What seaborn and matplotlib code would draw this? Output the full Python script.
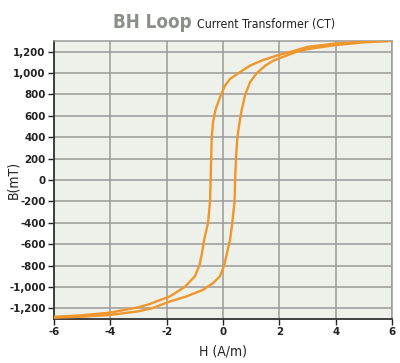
import matplotlib
matplotlib.use("Agg")
import matplotlib.pyplot as plt
import seaborn as sns
import pandas as pd
from matplotlib import font_manager
from matplotlib.font_manager import FontProperties

# descending branch (from +H saturation to -H)
h_down = [6, 5, 4, 3, 2.45, 1.92, 1.38, 0.96, 0.55, 0.25, 0.07, -0.07, -0.26, -0.35,
          -0.40, -0.42, -0.44, -0.46, -0.53, -0.67, -0.75, -0.84, -1.0, -1.36, -1.89, -2.37,
          -2.6, -3, -4, -5, -6]
b_down = [1302, 1292, 1277, 1245, 1202, 1165, 1118, 1070, 1000, 945, 883, 800, 663, 550,
          400, 200, 0, -200, -400, -558, -690, -800, -901, -1000, -1089, -1136,
          -1160, -1190, -1240, -1265, -1280]

# ascending branch (from -H saturation to +H)
h_up = [-6, -5, -4, -3, -2.5, -1.89, -1.3, -0.7, -0.35, -0.11, 0.04, 0.25, 0.33, 0.41,
        0.43, 0.46, 0.51, 0.6, 0.67, 0.79, 0.96, 1.2, 1.5, 1.8, 2.27, 2.57, 3, 4, 5, 6]
b_up = [-1288, -1278, -1262, -1228, -1198, -1136, -1089, -1026, -963, -901, -800, -558, -400, -200,
        0, 200, 400, 560, 663, 800, 915, 1000, 1070, 1118, 1165, 1196, 1225, 1262, 1288, 1302]

x_ticks = [-6, -4, -2, 0, 2, 4, 6]
y_ticks = [-1200, -1000, -800, -600, -400, -200, 0, 200, 400, 600, 800, 1000, 1200]
y_labels = ["-1,200", "-1,000", "-800", "-600", "-400", "-200", "0",
            "200", "400", "600", "800", "1,000", "1,200"]


# look for a condensed / narrow face, the original uses one
def pick_font(bold):
    narrow = [f for f in font_manager.fontManager.ttflist
              if f.stretch in ("condensed", "semi-condensed", "extra-condensed", "ultra-condensed")
              or "Narrow" in f.name or "Condensed" in f.name]
    def w(f):
        try:
            return int(f.weight)
        except (TypeError, ValueError):
            return 700 if "bold" in str(f.weight) else 400
    good = [f for f in narrow if (w(f) >= 600) == bold and f.style == "normal"]
    if good:
        return FontProperties(fname=good[0].fname), True
    return FontProperties(family="Liberation Sans", weight="bold" if bold else "normal"), False


fp_reg, cond_ok = pick_font(False)
fp_bold, _ = pick_font(True)

df = pd.DataFrame({
    "H": h_down + h_up,
    "B": b_down + b_up,
    "branch": ["down"] * len(h_down) + ["up"] * len(h_up),
})

sns.set_style("white")
plt.rcParams["font.family"] = ["Liberation Sans", "DejaVu Sans"]

fig = plt.figure(figsize=(4, 3.63), dpi=100)
ax = fig.add_axes([0.135, 0.1212, 0.845, 0.7658])
ax.set_facecolor("#eef0ea")

sns.lineplot(data=df, x="H", y="B", hue="branch", sort=False, estimator=None,
             palette={"down": "#f0962a", "up": "#f0962a"}, linewidth=1.7,
             legend=False, ax=ax, zorder=3)

ax.set_xlim(-6, 6)
ax.set_ylim(-1300, 1300)
ax.set_xticks(x_ticks)
ax.set_xticklabels([str(t) for t in x_ticks])
ax.set_yticks(y_ticks)
ax.set_yticklabels(y_labels)
ax.grid(True, color="#9a9a9a", linewidth=1.1)
ax.tick_params(axis="both", colors="#222222", length=4, width=1,
               direction="out", left=True, bottom=True, pad=2)

tick_size = 8.2 if cond_ok else 7.5
for lbl in ax.get_xticklabels() + ax.get_yticklabels():
    lbl.set_fontproperties(fp_bold)
    lbl.set_fontsize(tick_size)
    lbl.set_color("#222222")

for side in ["top", "right"]:
    ax.spines[side].set_color("#9a9a9a")
    ax.spines[side].set_linewidth(1.1)
for side in ["left", "bottom"]:
    ax.spines[side].set_color("#333333")
    ax.spines[side].set_linewidth(1.3)

lab_size = 10 if cond_ok else 8.5
ax.set_xlabel("H (A/m)", fontproperties=fp_reg, fontsize=lab_size, color="#222222")
ax.set_ylabel("B(mT)", fontproperties=fp_reg, fontsize=lab_size, color="#222222")
ax.xaxis.set_label_coords(0.5, -0.092)
ax.yaxis.set_label_coords(-0.1, 0.5)

fig.text(0.283, 0.923, "BH Loop", fontproperties=fp_bold, fontsize=13.5 if cond_ok else 11,
         color="#8a9088", ha="left", va="baseline")
fig.text(0.493, 0.923, "Current Transformer (CT)", fontproperties=fp_reg,
         fontsize=8.8 if cond_ok else 7.5, color="#222222", ha="left", va="baseline")

fig.savefig("out.png", dpi=100)
